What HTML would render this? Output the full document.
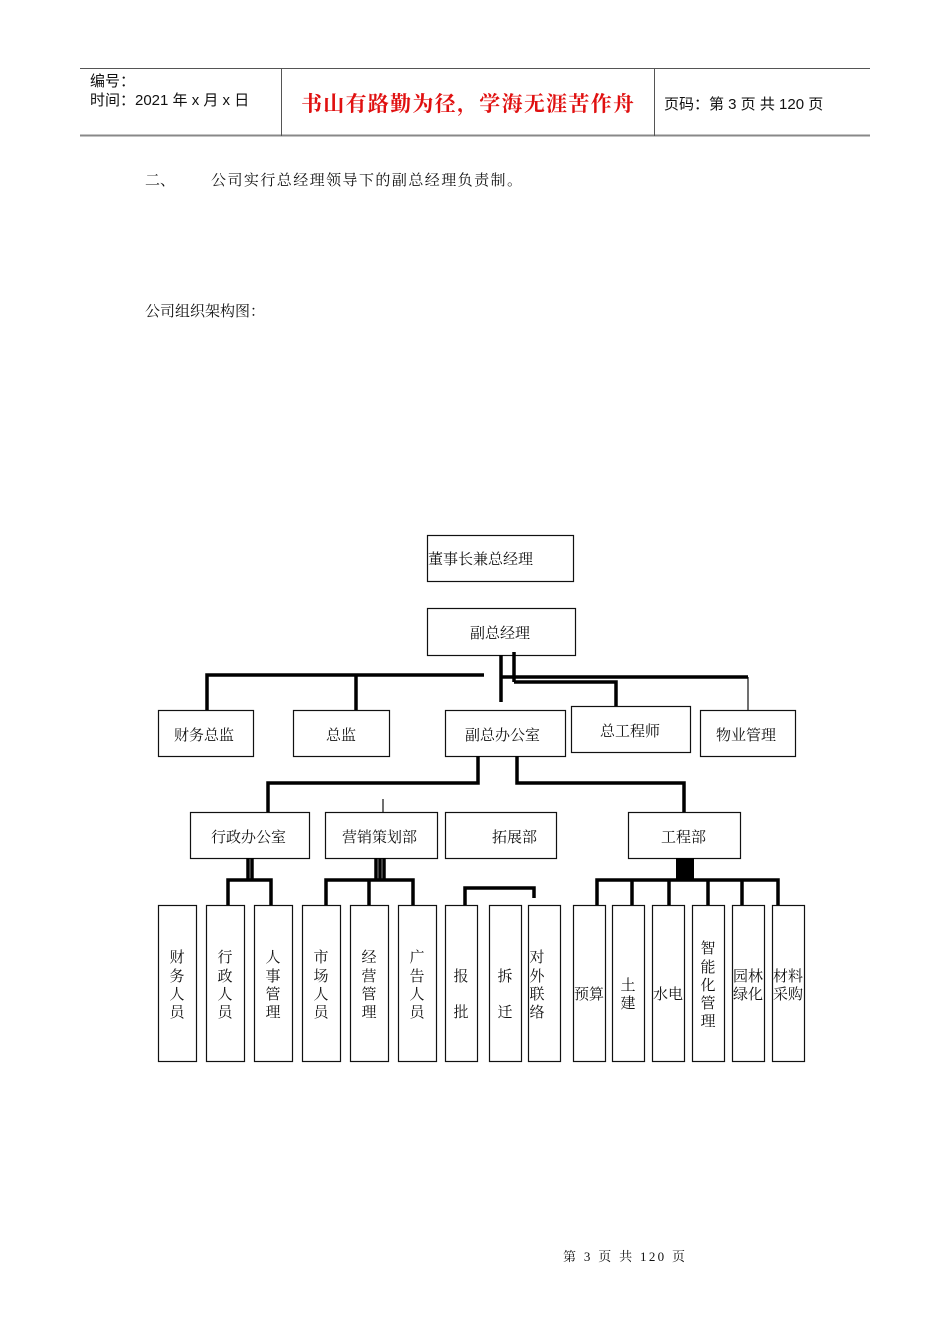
<!DOCTYPE html>
<html><head><meta charset="utf-8">
<style>
html,body{margin:0;padding:0;background:#fff;}
svg{display:block;}
text{font-family:"Liberation Serif","Noto Serif CJK SC",serif;fill:#111;}
.s{font-family:"Liberation Sans","Noto Sans CJK SC",sans-serif;}
</style></head><body>
<svg width="950" height="1344" viewBox="0 0 950 1344" xmlns="http://www.w3.org/2000/svg">
<line x1="80" y1="68.5" x2="870" y2="68.5" stroke="#555" stroke-width="1"/>
<line x1="80" y1="135.5" x2="870" y2="135.5" stroke="#888" stroke-width="2"/>
<line x1="281.5" y1="68" x2="281.5" y2="136" stroke="#555"/>
<line x1="654.5" y1="68" x2="654.5" y2="136" stroke="#555"/>
<text class="s" x="90" y="86" font-size="15">编号：</text>
<text class="s" x="90" y="105" font-size="15">时间：2021 年 x 月 x 日</text>
<text x="301" y="111" font-size="21" font-weight="bold" style="fill:#e01010" textLength="333">书山有路勤为径，学海无涯苦作舟</text>
<text class="s" x="664" y="109" font-size="15">页码：第 3 页  共 120 页</text>

<text x="145" y="185" font-size="15">二、</text>
<text x="211" y="185" font-size="15" textLength="311">公司实行总经理领导下的副总经理负责制。</text>
<text x="145" y="316" font-size="15">公司组织架构图：</text>

<g fill="none" stroke="#111" stroke-width="1.2">
<rect x="427.5" y="535.5" width="146" height="46"/>
<rect x="427.5" y="608.5" width="148" height="47"/>
<rect x="158.5" y="710.5" width="95" height="46"/>
<rect x="293.5" y="710.5" width="96" height="46"/>
<rect x="445.5" y="710.5" width="120" height="46"/>
<rect x="571.5" y="706.5" width="119" height="46"/>
<rect x="700.5" y="710.5" width="95" height="46"/>
<rect x="190.5" y="812.5" width="119" height="46"/>
<rect x="325.5" y="812.5" width="112" height="46"/>
<rect x="445.5" y="812.5" width="111" height="46"/>
<rect x="628.5" y="812.5" width="112" height="46"/>
<rect x="158.5" y="905.5" width="38" height="156"/>
<rect x="206.5" y="905.5" width="38" height="156"/>
<rect x="254.5" y="905.5" width="38" height="156"/>
<rect x="302.5" y="905.5" width="38" height="156"/>
<rect x="350.5" y="905.5" width="38" height="156"/>
<rect x="398.5" y="905.5" width="38" height="156"/>
<rect x="445.5" y="905.5" width="32" height="156"/>
<rect x="489.5" y="905.5" width="32" height="156"/>
<rect x="528.5" y="905.5" width="32" height="156"/>
<rect x="573.5" y="905.5" width="32" height="156"/>
<rect x="612.5" y="905.5" width="32" height="156"/>
<rect x="652.5" y="905.5" width="32" height="156"/>
<rect x="692.5" y="905.5" width="32" height="156"/>
<rect x="732.5" y="905.5" width="32" height="156"/>
<rect x="772.5" y="905.5" width="32" height="156"/>
<line x1="748" y1="677" x2="748" y2="710"/>
<line x1="383" y1="799" x2="383" y2="812"/>
</g>
<g fill="none" stroke="#000" stroke-width="3.5">
<polyline points="207,710 207,675 484,675"/>
<line x1="356" y1="675" x2="356" y2="710"/>
<line x1="501" y1="655" x2="501" y2="702"/>
<line x1="514" y1="652" x2="514" y2="682"/>
<polyline points="501,677 748,677"/>
<polyline points="514,682 616,682 616,706"/>
<polyline points="478,756 478,783 268,783 268,812"/>
<polyline points="517,756 517,783 684,783 684,812"/>
<line x1="248" y1="858" x2="248" y2="880"/>
<line x1="252" y1="858" x2="252" y2="880"/>
<polyline points="228,905 228,880 271,880 271,905"/>
<line x1="376" y1="858" x2="376" y2="880"/>
<line x1="380" y1="858" x2="380" y2="880"/>
<line x1="384" y1="858" x2="384" y2="880"/>
<polyline points="326,905 326,880 413,880 413,905"/>
<line x1="369" y1="880" x2="369" y2="905"/>
<polyline points="465,905 465,888 534,888 534,898"/>
<rect x="676" y="858" width="18" height="22" fill="#000" stroke="none"/>
<polyline points="597,905 597,880 778,880 778,905"/>
<line x1="632" y1="880" x2="632" y2="905"/>
<line x1="669" y1="880" x2="669" y2="905"/>
<line x1="708" y1="880" x2="708" y2="905"/>
<line x1="742" y1="880" x2="742" y2="905"/>
</g>
<g font-size="15">
<text x="428" y="564">董事长兼总经理</text>
<text x="470" y="638">副总经理</text>
<text x="174" y="740">财务总监</text>
<text x="326" y="740">总监</text>
<text x="465" y="740">副总办公室</text>
<text x="600" y="736">总工程师</text>
<text x="716" y="740">物业管理</text>
<text x="211" y="842">行政办公室</text>
<text x="342" y="842">营销策划部</text>
<text x="492" y="842">拓展部</text>
<text x="661" y="842">工程部</text>
</g>
<g font-size="15" text-anchor="middle">
<text x="177" y="962">财</text><text x="177" y="981">务</text><text x="177" y="999">人</text><text x="177" y="1017">员</text>
<text x="225" y="962">行</text><text x="225" y="981">政</text><text x="225" y="999">人</text><text x="225" y="1017">员</text>
<text x="273" y="962">人</text><text x="273" y="981">事</text><text x="273" y="999">管</text><text x="273" y="1017">理</text>
<text x="321" y="962">市</text><text x="321" y="981">场</text><text x="321" y="999">人</text><text x="321" y="1017">员</text>
<text x="369" y="962">经</text><text x="369" y="981">营</text><text x="369" y="999">管</text><text x="369" y="1017">理</text>
<text x="417" y="962">广</text><text x="417" y="981">告</text><text x="417" y="999">人</text><text x="417" y="1017">员</text>
<text x="461" y="981">报</text><text x="461" y="1017">批</text>
<text x="505" y="981">拆</text><text x="505" y="1017">迁</text>
<text x="537" y="962">对</text><text x="537" y="981">外</text><text x="537" y="999">联</text><text x="537" y="1017">络</text>
<text x="589" y="999">预算</text>
<text x="628" y="990">土</text><text x="628" y="1008">建</text>
<text x="668" y="999">水电</text>
<text x="708" y="953">智</text><text x="708" y="972">能</text><text x="708" y="990">化</text><text x="708" y="1008">管</text><text x="708" y="1026">理</text>
<text x="748" y="981">园林</text><text x="748" y="999">绿化</text>
<text x="788" y="981">材料</text><text x="788" y="999">采购</text>
</g>
<text x="563" y="1261" font-size="13" textLength="122">第 3 页 共 120 页</text>
</svg>
</body></html>
